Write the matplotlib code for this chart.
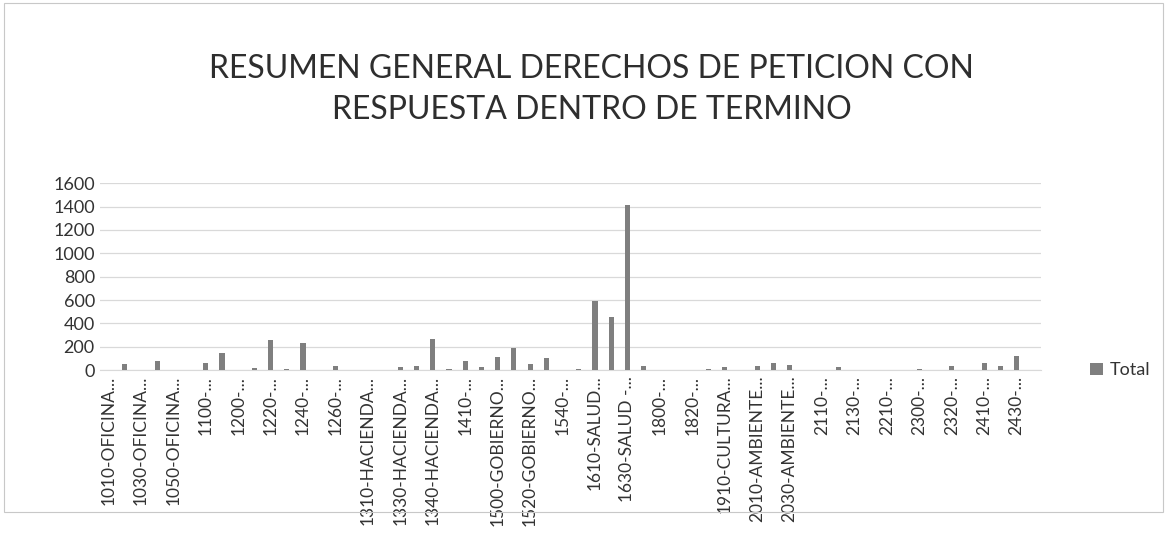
import matplotlib
matplotlib.use("Agg")
import matplotlib.pyplot as plt
from matplotlib.patches import Rectangle

plt.rcParams['font.family'] = ['Lato', 'DejaVu Sans']

title = "RESUMEN GENERAL DERECHOS DE PETICION CON\nRESPUESTA DENTRO DE TERMINO"
series_name = "Total"

categories = [
    "1010-OFICINA...", "1020-OFICINA...", "1030-OFICINA...", "1040-OFICINA...",
    "1050-OFICINA...", "1060-OFICINA...", "1100-...", "1120-...",
    "1200-...", "1210-...", "1220-...", "1230-...",
    "1240-...", "1250-...", "1260-...", "1300-...",
    "1310-HACIENDA...", "1320-HACIENDA...", "1330-HACIENDA...", "1335-HACIENDA...",
    "1340-HACIENDA...", "1400-...", "1410-...", "1420-...",
    "1500-GOBIERNO...", "1510-GOBIERNO...", "1520-GOBIERNO...", "1530-GOBIERNO...",
    "1540-...", "1600-SALUD...", "1610-SALUD...", "1620-SALUD...",
    "1630-SALUD -...", "1640-SALUD...", "1800-...", "1810-...",
    "1820-...", "1900-CULTURA...", "1910-CULTURA...", "2000-AMBIENTE...",
    "2010-AMBIENTE...", "2020-AMBIENTE...", "2030-AMBIENTE...", "2100-...",
    "2110-...", "2120-...", "2130-...", "2200-...",
    "2210-...", "2220-...", "2300-...", "2310-...",
    "2320-...", "2400-...", "2410-...", "2420-...",
    "2430-...", "2440-...",
]

values = [
    0, 55, 0, 80, 0, 0, 60, 145,
    0, 20, 255, 12, 235, 0, 38, 0,
    5, 0, 30, 38, 265, 8, 80, 30,
    110, 190, 50, 100, 3, 10, 595, 455,
    1415, 40, 0, 0, 0, 8, 25, 0,
    35, 60, 45, 0, 5, 25, 0, 0,
    0, 0, 10, 0, 40, 0, 60, 40,
    120, 5,
]

y_ticks = [0, 200, 400, 600, 800, 1000, 1200, 1400, 1600]

text_color = "#333333"
bar_color = "#7f7f7f"
grid_color = "#d9d9d9"

fig = plt.figure(figsize=(11.67, 5.42), dpi=100)
ax = fig.add_axes([0.086, 0.317, 0.806, 0.345])

x = list(range(len(categories)))
ax.bar(x, values, width=0.32, color=bar_color, label=series_name, zorder=3)

ax.set_xlim(-0.5, len(categories) - 0.5)
ax.set_ylim(0, 1600)
ax.set_yticks(y_ticks)
ax.set_yticklabels([str(v) for v in y_ticks], fontsize=13, color=text_color)
ax.yaxis.grid(True, color=grid_color, linewidth=0.9, zorder=0)

shown = x[::2]
ax.set_xticks(shown)
ax.set_xticklabels([categories[i] for i in shown], rotation=90, fontsize=12.5,
                   color=text_color, va='top', ha='center')

for side in ('top', 'right', 'left'):
    ax.spines[side].set_visible(False)
ax.spines['bottom'].set_color(grid_color)
ax.tick_params(axis='both', length=0, pad=4)
ax.set_axisbelow(True)

ax.legend(loc='center left', bbox_to_anchor=(1.035, 0.0), frameon=False,
          fontsize=13, handlelength=0.7, handleheight=0.7, handletextpad=0.4,
          labelcolor=text_color)

fig.text(0.507, 0.835, title, ha='center', va='center', fontsize=23,
         color="#2e2e2e", linespacing=1.45)

fig.patches.append(Rectangle((0.003, 0.055), 0.994, 0.94, transform=fig.transFigure,
                             fill=False, edgecolor="#c8c8c8", linewidth=0.8))

fig.savefig("out.png", dpi=100, facecolor="white")
